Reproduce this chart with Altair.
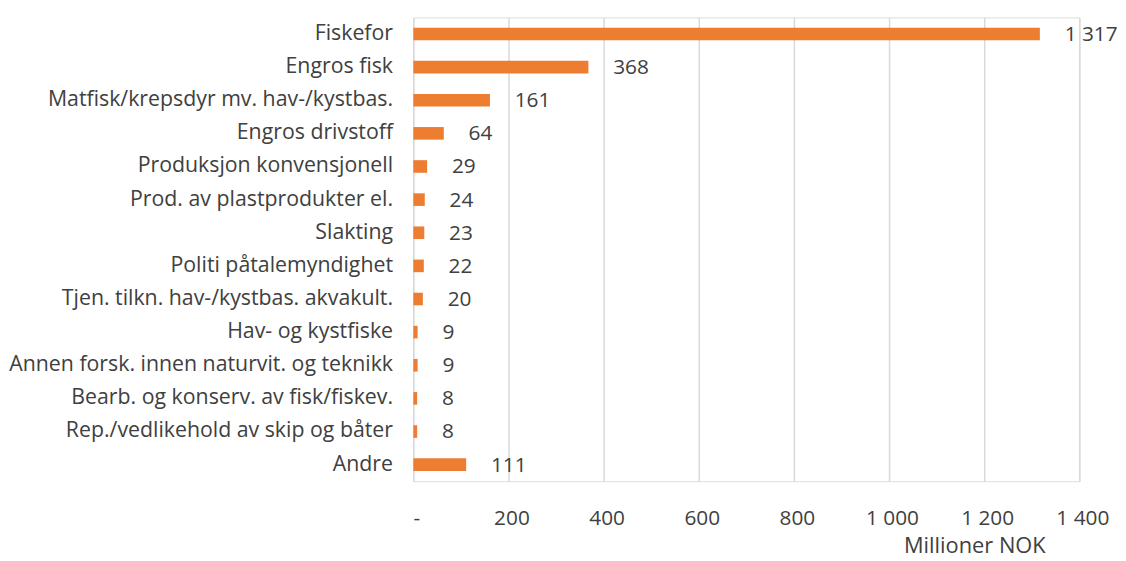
import altair as alt
import pandas as pd

categories = [
    "Fiskefor",
    "Engros fisk",
    "Matfisk/krepsdyr mv. hav-/kystbas.",
    "Engros drivstoff",
    "Produksjon konvensjonell",
    "Prod. av plastprodukter el.",
    "Slakting",
    "Politi påtalemyndighet",
    "Tjen. tilkn. hav-/kystbas. akvakult.",
    "Hav- og kystfiske",
    "Annen forsk. innen naturvit. og teknikk",
    "Bearb. og konserv. av fisk/fiskev.",
    "Rep./vedlikehold av skip og båter",
    "Andre",
]
values = [1317, 368, 161, 64, 29, 24, 23, 22, 20, 9, 9, 8, 8, 111]
x_ticks = [0, 200, 400, 600, 800, 1000, 1200, 1400]

df = pd.DataFrame({"cat": categories, "val": values})

FONT = "Open Sans"
TEXT = "#404040"
p = 1 - 12.7 / 33.4

x_enc = alt.X(
    "val:Q",
    scale=alt.Scale(domain=[0, 1400], nice=False),
    axis=alt.Axis(
        values=x_ticks,
        labelExpr="datum.value == 0 ? '-' : replace(format(datum.value, ','), ',', ' ')",
        grid=True,
        gridColor="#d9d9d9",
        gridWidth=1.5,
        domain=False,
        ticks=False,
        labelFont=FONT,
        labelFontSize=21,
        labelColor=TEXT,
        labelPadding=27,
        labelOffset=3,
        labelFlush=False,
        labelOverlap=False,
        title="Millioner NOK",
        titleFont=FONT,
        titleFontSize=22,
        titleFontWeight="normal",
        titleColor=TEXT,
        titleX=566,
        titleY=55,
        titleAlign="center",
    ),
)
y_enc = alt.Y(
    "cat:N",
    sort=categories,
    scale=alt.Scale(paddingInner=p, paddingOuter=p / 2),
    axis=alt.Axis(
        title=None,
        domain=False,
        ticks=False,
        labelFont=FONT,
        labelFontSize=21.5,
        labelColor=TEXT,
        labelPadding=21,
        labelLimit=500,
        minExtent=407,
        maxExtent=407,
    ),
)

bars = alt.Chart(df).mark_bar(color="#ED7D31").encode(x=x_enc, y=y_enc)
labels = alt.Chart(df).mark_text(
    align="left", baseline="middle", dx=25, dy=1, font=FONT, fontSize=21, color=TEXT
).encode(
    x=alt.X("val:Q"),
    y=alt.Y("cat:N", sort=categories),
    text=alt.Text("lbl:N"),
).transform_calculate(
    lbl="replace(format(datum.val, ','), ',', ' ')"
)

chart = (
    alt.layer(bars, labels)
    .properties(width=672, height=468, padding={"left": 0, "top": 7, "right": 0, "bottom": 0})
    .configure_view(stroke=None)
    .configure(background="white")
)
chart.save("out.html", embed_options={"renderer": "svg", "actions": False})
